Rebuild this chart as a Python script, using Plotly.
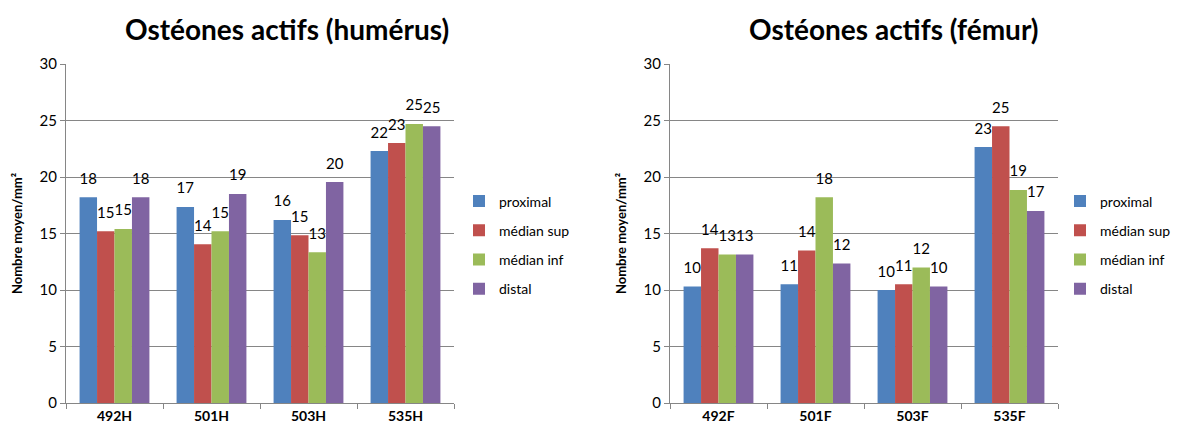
import plotly.graph_objects as go

# Data
series_names = ["proximal", "médian sup", "médian inf", "distal"]
colors = ["#4F81BD", "#C0504D", "#9BBB59", "#8064A2"]

humerus_cats = ["492H", "501H", "503H", "535H"]
humerus_proximal = [18.2, 17.35, 16.2, 22.3]
humerus_median_sup = [15.2, 14.05, 14.85, 23.0]
humerus_median_inf = [15.4, 15.2, 13.35, 24.7]
humerus_distal = [18.2, 18.5, 19.55, 24.5]

femur_cats = ["492F", "501F", "503F", "535F"]
femur_proximal = [10.3, 10.5, 10.0, 22.65]
femur_median_sup = [13.7, 13.5, 10.5, 24.5]
femur_median_inf = [13.15, 18.2, 12.0, 18.85]
femur_distal = [13.15, 12.35, 10.3, 17.0]

humerus_values = [humerus_proximal, humerus_median_sup, humerus_median_inf, humerus_distal]
femur_values = [femur_proximal, femur_median_sup, femur_median_inf, femur_distal]

FONT = "Lato, 'Open Sans', sans-serif"
# the page body has an 8px margin, so the figure is sized to fit inside it
OFF = 8
W, H = 1182 - OFF, 432 - OFF


def px_x(p):
    return (p - OFF) / W


def px_y(p):
    return 1 - (p - OFF) / H


def label(v):
    # round half up like the spreadsheet does
    return str(int(v + 0.5))


fig = go.Figure()


def add_panel(cats, values, xa, ya, legend, tag):
    for i, name in enumerate(series_names):
        fig.add_trace(go.Bar(
            x=cats, y=values[i], name=name,
            marker=dict(color=colors[i], line=dict(width=0)),
            offsetgroup=str(i), alignmentgroup=tag,
            xaxis=xa, yaxis=ya, legend=legend, legendgroup=tag + str(i),
            hoverinfo="x+y+name",
        ))
    # value labels: invisible markers push the text a little above each bar
    for i, name in enumerate(series_names):
        fig.add_trace(go.Scatter(
            x=cats, y=values[i], mode="markers+text",
            marker=dict(size=14, opacity=0, color=colors[i]),
            text=[label(v) for v in values[i]], textposition="top center",
            textfont=dict(size=15, color="#000000", family=FONT),
            offsetgroup=str(i), alignmentgroup=tag, cliponaxis=False,
            xaxis=xa, yaxis=ya, showlegend=False, hoverinfo="skip",
        ))


add_panel(humerus_cats, humerus_values, "x", "y", "legend", "h")
add_panel(femur_cats, femur_values, "x2", "y2", "legend2", "f")

ydom = [px_y(403), px_y(64)]


def xaxis_style(domain, anchor):
    return dict(
        domain=domain, anchor=anchor, showgrid=False,
        showline=True, linecolor="#868686", linewidth=1,
        ticks="outside", tickson="boundaries", ticklen=5, tickcolor="#868686",
        tickfont=dict(size=14, family=FONT, color="#000000", weight="bold"),
        fixedrange=True, automargin=False,
    )


def yaxis_style(anchor):
    return dict(
        domain=ydom, anchor=anchor, range=[0, 30], dtick=5,
        showgrid=True, gridcolor="#868686", gridwidth=1,
        showline=True, linecolor="#868686", linewidth=1,
        ticks="outside", ticklen=5, tickcolor="#868686",
        tickfont=dict(size=15, family=FONT, color="#000000"),
        title=dict(text="Nombre moyen/mm²", standoff=14,
                   font=dict(size=13, family=FONT, color="#000000", weight="bold")),
        zeroline=False, fixedrange=True, automargin=False,
    )


def legend_style(x):
    return dict(
        x=x, xanchor="left", y=px_y(245), yanchor="middle",
        font=dict(size=14, family=FONT, color="#000000"),
        bgcolor="rgba(0,0,0,0)", tracegroupgap=8, itemwidth=30,
        traceorder="grouped",
    )


fig.update_layout(
    width=W, height=H,
    margin=dict(l=0, r=0, t=0, b=0, autoexpand=False),
    paper_bgcolor="white", plot_bgcolor="white",
    barmode="group", bargap=0.28, bargroupgap=0,
    scattermode="group", scattergap=0.28,
    font=dict(family=FONT),
    xaxis=xaxis_style([px_x(66), px_x(454)], "y"),
    yaxis=yaxis_style("x"),
    xaxis2=xaxis_style([px_x(670), px_x(1058)], "y2"),
    yaxis2=yaxis_style("x2"),
    legend=legend_style(px_x(459)),
    legend2=legend_style(px_x(1060)),
    annotations=[
        dict(text="<b>Ostéones actifs (humérus)</b>", x=px_x(287), y=px_y(29),
             xref="paper", yref="paper", showarrow=False, xanchor="center", yanchor="middle",
             font=dict(size=28, family=FONT, color="#000000")),
        dict(text="<b>Ostéones actifs (fémur)</b>", x=px_x(893), y=px_y(29),
             xref="paper", yref="paper", showarrow=False, xanchor="center", yanchor="middle",
             font=dict(size=28, family=FONT, color="#000000")),
    ],
)

fig.write_html("out.html")
